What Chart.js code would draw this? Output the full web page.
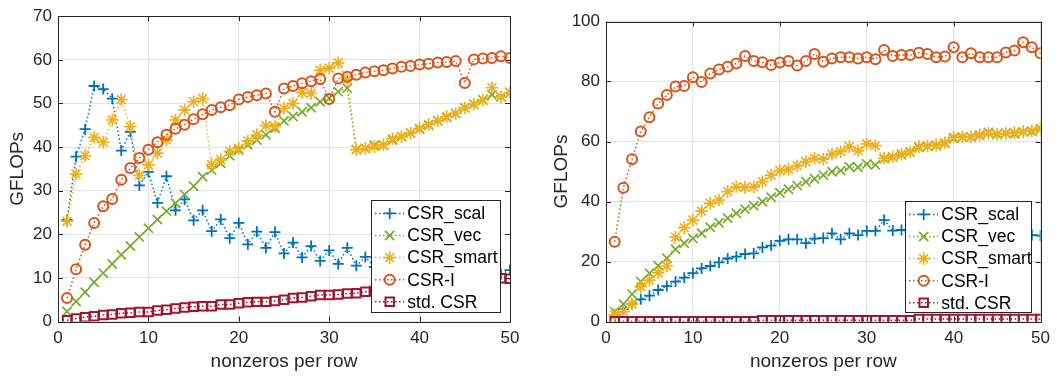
<!DOCTYPE html>
<html>
<head>
<meta charset="utf-8">
<script src="https://cdn.jsdelivr.net/npm/chart.js@4.4.1/dist/chart.umd.min.js"></script>
<style>
  body { margin: 0; background: #fff; }
  .wrap { position: relative; width: 1057px; height: 377px; }
  canvas { position: absolute; top: 0; }
</style>
</head>
<body>
<div class="wrap">
  <canvas id="leftChart" width="528" height="377" style="left:0"></canvas>
  <canvas id="rightChart" width="529" height="377" style="left:528px"></canvas>
</div>
<script>
// nonzeros per row
const nnz = [1, 2, 3, 4, 5, 6, 7, 8, 9, 10, 11, 12, 13, 14, 15, 16, 17, 18, 19, 20,
  21, 22, 23, 24, 25, 26, 27, 28, 29, 30, 31, 32, 33, 34, 35, 36, 37, 38, 39, 40,
  41, 42, 43, 44, 45, 46, 47, 48, 49, 50];

const seriesNames = ['CSR_scal', 'CSR_vec', 'CSR_smart', 'CSR-I', 'std. CSR'];

// left panel (GFLOPs)
const scalL = [23.3, 37.8, 44.1, 54.0, 53.3, 51.1, 39.2, 43.5, 31.2, 34.3, 27.2, 33.3, 25.5, 28.0, 23.2, 25.5, 20.7, 23.4, 19.1, 22.6,
  17.7, 20.6, 16.9, 20.5, 15.6, 18.1, 14.7, 17.3, 13.9, 16.3, 13.2, 16.9, 12.8, 14.8, 12.5, 14.0, 12.2, 13.6, 11.9, 13.2,
  11.7, 13.0, 11.5, 12.7, 11.3, 12.5, 11.1, 12.2, 10.9, 11.8];
const vecL = [2.3, 4.6, 6.7, 9.0, 11.1, 13.2, 15.3, 17.3, 19.4, 21.4, 23.4, 25.3, 27.1, 29.1, 31.0, 33.2, 34.7, 36.3, 38.0, 39.3,
  40.5, 41.6, 42.8, 44.3, 46.0, 47.0, 48.1, 49.0, 50.4, 51.2, 52.7, 53.5, 39.4, 39.7, 40.4, 40.4, 41.6, 42.4, 43.2, 44.1,
  45.0, 46.0, 46.8, 47.7, 49.0, 49.8, 50.8, 52.0, 51.5, 52.5];
const smartL = [23.0, 33.8, 38.0, 42.2, 41.1, 46.2, 50.9, 44.7, 33.5, 35.9, 38.6, 41.6, 46.2, 48.5, 50.4, 51.1, 36.0, 37.1, 39.0, 39.7,
  41.4, 42.8, 44.9, 44.7, 48.9, 50.0, 52.5, 52.3, 57.6, 58.1, 59.3, 55.5, 39.4, 39.7, 40.1, 40.5, 41.9, 42.4, 43.2, 44.3,
  45.2, 46.0, 47.0, 47.7, 49.0, 49.8, 50.8, 53.6, 51.5, 52.5];
const csrIL = [5.4, 12.0, 17.6, 22.6, 26.4, 28.1, 32.5, 35.2, 37.5, 39.4, 41.1, 42.8, 44.2, 45.1, 46.4, 47.5, 48.5, 49.1, 49.6, 50.9,
  51.5, 51.9, 52.3, 48.1, 53.4, 54.0, 54.6, 55.1, 55.6, 51.0, 55.7, 56.1, 56.6, 57.1, 57.4, 57.6, 58.0, 58.4, 58.6, 58.9,
  59.1, 59.4, 59.5, 59.7, 54.7, 60.1, 60.3, 60.4, 60.8, 60.4];
const stdL = [0.3, 0.7, 1.0, 1.2, 1.5, 1.6, 1.9, 2.0, 2.2, 2.2, 2.5, 2.7, 3.0, 3.2, 3.4, 3.5, 3.5, 3.9, 3.9, 4.2,
  4.4, 4.5, 4.5, 4.7, 5.0, 5.4, 5.5, 5.8, 6.1, 6.1, 6.2, 6.4, 6.5, 6.8, 7.0, 7.2, 7.4, 7.6, 7.8, 8.0,
  8.2, 8.4, 8.6, 8.8, 9.0, 9.2, 9.4, 9.7, 9.9, 9.8];

// right panel (GFLOPs)
const scalR = [2.2, 4.1, 5.8, 7.4, 8.6, 10.5, 11.8, 13.3, 14.6, 16.1, 17.7, 18.5, 19.7, 21.0, 21.6, 22.5, 22.7, 24.7, 25.3, 26.9,
  27.4, 27.4, 26.1, 27.6, 27.8, 29.4, 27.4, 29.4, 28.8, 30.2, 30.2, 33.8, 30.3, 30.5, 30.0, 30.6, 31.0, 30.2, 30.6, 31.0,
  30.2, 29.8, 30.2, 29.6, 29.2, 29.6, 29.0, 29.2, 28.8, 28.6];
const vecR = [3.3, 5.8, 9.1, 13.3, 16.1, 18.6, 21.1, 24.1, 26.1, 27.7, 29.4, 31.4, 32.9, 34.4, 36.1, 37.4, 38.6, 39.9, 41.4, 42.9,
  44.1, 45.3, 46.6, 47.6, 48.8, 49.9, 50.3, 51.6, 51.4, 52.5, 52.2, 54.2, 54.8, 55.6, 56.5, 58.0, 58.4, 58.6, 59.4, 61.0,
  61.4, 61.5, 62.0, 63.0, 62.3, 62.8, 62.6, 63.2, 63.3, 64.2];
const smartR = [2.2, 3.3, 5.8, 11.6, 13.8, 16.3, 18.5, 28.1, 31.3, 33.8, 36.8, 39.4, 40.5, 43.3, 44.9, 44.7, 44.9, 46.6, 48.8, 50.3,
  50.7, 51.9, 53.3, 54.4, 54.1, 55.8, 56.6, 58.3, 56.9, 59.2, 58.6, 54.4, 54.9, 55.8, 56.6, 58.3, 58.5, 58.8, 59.6, 61.4,
  61.6, 61.6, 62.2, 62.7, 62.5, 62.7, 62.9, 63.3, 63.6, 64.4];
const csrIR = [26.6, 44.6, 54.1, 63.3, 68.1, 72.7, 75.5, 78.3, 78.5, 81.4, 79.8, 82.7, 84.0, 84.9, 86.0, 88.5, 86.8, 86.4, 85.5, 86.3,
  86.8, 85.3, 86.8, 89.2, 86.6, 87.7, 88.1, 88.1, 87.7, 88.1, 87.4, 90.5, 88.5, 88.8, 88.8, 89.6, 89.2, 88.1, 88.3, 91.4,
  88.1, 89.4, 88.1, 88.1, 88.1, 89.7, 90.3, 93.1, 91.4, 89.4];
const stdR = [0.1, 0.1, 0.1, 0.1, 0.1, 0.1, 0.1, 0.1, 0.1, 0.1, 0.1, 0.1, 0.1, 0.1, 0.1, 0.1, 0.1, 0.4, 0.4, 0.4,
  0.4, 0.4, 0.4, 0.4, 0.4, 0.4, 0.4, 0.4, 0.4, 0.4, 0.4, 0.4, 0.4, 0.4, 0.4, 0.8, 0.8, 0.8, 0.8, 0.8,
  0.8, 0.8, 0.8, 0.8, 0.8, 0.8, 0.8, 0.8, 0.8, 0.8];

const xTicks = [0, 10, 20, 30, 40, 50];
const yTicksL = [0, 10, 20, 30, 40, 50, 60, 70];
const yTicksR = [0, 20, 40, 60, 80, 100];

const colors = ['#0072BD', '#77AC30', '#EDB120', '#D95319', '#A2142F'];
const markers = ['cross', 'crossRot', 'star', 'circle', 'rect'];
const markerSize = [5.5, 6.5, 6.3, 5, 6];
const markerLine = [1.8, 1.7, 1.7, 2, 2];
const FONT = '"Liberation Sans", Arial, Helvetica, sans-serif';
const TXT = '#262626';

// box + inward ticks, MATLAB style
const framePlugin = {
  id: 'frame',
  beforeDatasetsDraw(chart) {
    const { ctx, chartArea: a, scales } = chart;
    ctx.save();
    ctx.strokeStyle = '#262626';
    ctx.lineWidth = 1;
    ctx.beginPath();
    ctx.rect(Math.round(a.left) + 0.5, Math.round(a.top) + 0.5,
      Math.round(a.right) - Math.round(a.left), Math.round(a.bottom) - Math.round(a.top));
    scales.x.ticks.forEach(t => {
      const px = Math.round(scales.x.getPixelForValue(t.value)) + 0.5;
      ctx.moveTo(px, a.bottom); ctx.lineTo(px, a.bottom - 5);
      ctx.moveTo(px, a.top); ctx.lineTo(px, a.top + 5);
    });
    scales.y.ticks.forEach(t => {
      const py = Math.round(scales.y.getPixelForValue(t.value)) + 0.5;
      ctx.moveTo(a.left, py); ctx.lineTo(a.left + 5, py);
      ctx.moveTo(a.right, py); ctx.lineTo(a.right - 5, py);
    });
    ctx.stroke();
    ctx.restore();
  }
};

// legend drawn inside the plot area (south-east)
const insideLegend = {
  id: 'insideLegend',
  afterDatasetsDraw(chart, args, opts) {
    const { ctx, chartArea: a } = chart;
    const w = opts.width, h = opts.height;
    const x0 = Math.round(a.right - opts.margin - w), y0 = Math.round(a.bottom - opts.margin - h);
    ctx.save();
    ctx.fillStyle = '#fff';
    ctx.fillRect(x0, y0, w, h);
    ctx.strokeStyle = '#262626';
    ctx.lineWidth = 1;
    ctx.strokeRect(x0 + 0.5, y0 + 0.5, w, h);
    chart.data.datasets.forEach((ds, i) => {
      const cy = y0 + 13.4 + i * 22.1;
      ctx.strokeStyle = ds.borderColor;
      ctx.lineWidth = ds.borderWidth;
      ctx.setLineDash(ds.borderDash);
      ctx.beginPath();
      ctx.moveTo(x0 + 4, cy);
      ctx.lineTo(x0 + 33, cy);
      ctx.stroke();
      ctx.setLineDash([]);
      ctx.lineWidth = ds.pointBorderWidth;
      ctx.fillStyle = 'rgba(0,0,0,0)';
      Chart.helpers.drawPoint(ctx, {
        pointStyle: ds.pointStyle, radius: ds.pointRadius, rotation: 0, borderWidth: ds.pointBorderWidth
      }, x0 + 18.7, cy);
      ctx.fillStyle = '#000';
      ctx.font = '17.5px ' + FONT;
      ctx.textBaseline = 'middle';
      ctx.textAlign = 'left';
      ctx.fillText(ds.label, x0 + 36.3, cy + 1);
    });
    ctx.restore();
  }
};

function makeChart(id, series, yMax, yTicks, pad, yWidth, yTitlePad, legendBox) {
  const datasets = series.map((vals, i) => ({
    label: seriesNames[i],
    data: nnz.map((x, k) => ({ x: x, y: vals[k] })),
    borderColor: colors[i],
    backgroundColor: 'rgba(0,0,0,0)',
    borderWidth: 1.5,
    borderDash: [1.5, 2.5],
    pointStyle: markers[i],
    pointRadius: markerSize[i],
    pointBorderWidth: markerLine[i],
    pointBorderColor: colors[i],
    pointBackgroundColor: 'rgba(0,0,0,0)',
    pointHoverRadius: markerSize[i],
    tension: 0,
    order: series.length - i
  }));

  return new Chart(document.getElementById(id), {
    type: 'line',
    data: { datasets },
    options: {
      responsive: false,
      animation: false,
      devicePixelRatio: 1,
      layout: { padding: pad },
      plugins: {
        legend: { display: false },
        tooltip: { enabled: false },
        insideLegend: legendBox
      },
      scales: {
        x: {
          type: 'linear',
          min: 0, max: 50,
          afterBuildTicks: s => { s.ticks = xTicks.map(v => ({ value: v })); },
          afterFit: s => { s.height = 55.5; },
          grid: { color: '#E3E3E3', lineWidth: 1, drawTicks: false },
          border: { display: false },
          ticks: { color: TXT, font: { family: FONT, size: 17 }, padding: 7, maxRotation: 0 },
          title: { display: true, text: 'nonzeros per row', color: TXT,
                   font: { family: FONT, size: 19 }, padding: { bottom: 4 } }
        },
        y: {
          min: 0, max: yMax,
          afterBuildTicks: s => { s.ticks = yTicks.map(v => ({ value: v })); },
          afterFit: s => { s.width = yWidth; },
          grid: { color: '#E3E3E3', lineWidth: 1, drawTicks: false },
          border: { display: false },
          ticks: { color: TXT, font: { family: FONT, size: 17 }, padding: 6 },
          title: { display: true, text: 'GFLOPs', color: TXT,
                   font: { family: FONT, size: 19 }, padding: { top: yTitlePad } }
        }
      }
    },
    plugins: [framePlugin, insideLegend]
  });
}

makeChart('leftChart', [scalL, vecL, smartL, csrIL, stdL], 70, yTicksL,
  { top: 14, right: 18, left: 0, bottom: 0 }, 58, 6.6,
  { width: 129, height: 112, margin: 10 });

makeChart('rightChart', [scalR, vecR, smartR, csrIR, stdR], 100, yTicksR,
  { top: 21.5, right: 7.5, left: 0, bottom: 0 }, 78, 22.6,
  { width: 126, height: 111, margin: 10 });
</script>
</body>
</html>
